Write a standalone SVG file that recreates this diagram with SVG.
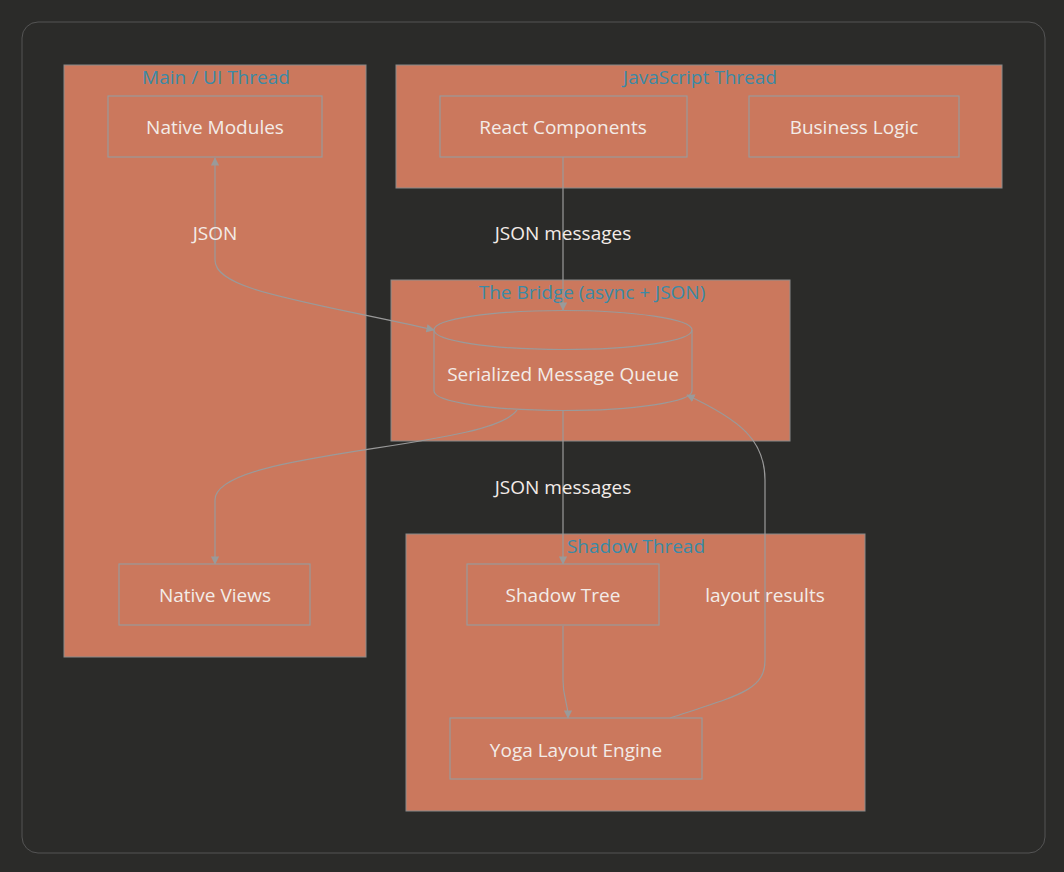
<svg xmlns="http://www.w3.org/2000/svg" width="1064" height="872" viewBox="0 0 1064 872">
<style>
.cl{fill:#cb785d;stroke:#8a8a8a;stroke-width:1}
.ct{fill:#3a8aa6;font:19px "Open Sans","Liberation Sans",sans-serif;text-anchor:middle}
.nd{fill:#cb785d;stroke:#9a9a9a;stroke-width:1.2}
.nt{fill:#f3ece8;font:19px "Open Sans","Liberation Sans",sans-serif;text-anchor:middle}
.e{fill:none;stroke:#9a9a9a;stroke-width:1.2}
.el{fill:#f3ece8;font:19px "Open Sans","Liberation Sans",sans-serif;text-anchor:middle}
</style>
<defs>
<marker id="a" viewBox="0 0 10 10" refX="9" refY="5" markerWidth="7" markerHeight="7" orient="auto-start-reverse"><path d="M0,0L10,5L0,10z" fill="#9a9a9a"/></marker>
</defs>
<rect width="1064" height="872" fill="#2b2b29"/>
<rect x="22" y="22" width="1023" height="831" rx="16" fill="#2b2b29" stroke="#555" stroke-width="1"/>
<g id="main-thread"><rect class="cl" x="64" y="65" width="302" height="592"/><text class="ct" x="216" y="84">Main / UI Thread</text></g>
<g id="js-thread"><rect class="cl" x="396" y="65" width="606" height="123"/><text class="ct" x="700" y="84">JavaScript Thread</text></g>
<g id="bridge"><rect class="cl" x="391" y="280" width="399" height="161"/><text class="ct" x="592" y="299">The Bridge (async + JSON)</text></g>
<g id="shadow-thread"><rect class="cl" x="406" y="534" width="459" height="277"/><text class="ct" x="636" y="553">Shadow Thread</text></g>
<g id="native-modules"><rect class="nd" x="108" y="96" width="214" height="61"/><text class="nt" x="215" y="134">Native Modules</text></g>
<g id="react-components"><rect class="nd" x="440" y="96" width="247" height="61"/><text class="nt" x="563" y="134">React Components</text></g>
<g id="business-logic"><rect class="nd" x="749" y="96" width="210" height="61"/><text class="nt" x="854" y="134">Business Logic</text></g>
<g id="queue"><path class="nd" d="M434,330 A129,19.5 0 0 1 692,330 L692,391 A129,19.5 0 0 1 434,391 Z"/><path class="e" d="M434,330 A129,19.5 0 0 0 692,330"/><text class="nt" x="563" y="381">Serialized Message Queue</text></g>
<g id="native-views"><rect class="nd" x="119" y="564" width="191" height="61"/><text class="nt" x="215" y="602">Native Views</text></g>
<g id="shadow-tree"><rect class="nd" x="467" y="564" width="192" height="61"/><text class="nt" x="563" y="602">Shadow Tree</text></g>
<g id="yoga"><rect class="nd" x="450" y="718" width="252" height="61"/><text class="nt" x="576" y="757">Yoga Layout Engine</text></g>
<g id="connectors">
<path class="e" d="M215,158 L215,260 C215,290 300,300 434,330" marker-start="url(#a)" marker-end="url(#a)"/>
<path class="e" d="M563,157 L563,310" marker-end="url(#a)"/>
<path class="e" d="M517,410 C490,450 215,450 215,500 L215,564" marker-end="url(#a)"/>
<path class="e" d="M563,411 L563,564" marker-end="url(#a)"/>
<path class="e" d="M563,626 L563,680 C563,700 568,700 568,718" marker-end="url(#a)"/>
<path class="e" d="M670,718 C740,695 765,690 765,660 L765,480 C765,440 740,420 687,395" marker-end="url(#a)"/>
<text class="el" x="215" y="240">JSON</text>
<text class="el" x="563" y="240">JSON messages</text>
<text class="el" x="563" y="494">JSON messages</text>
<text class="el" x="765" y="602">layout results</text>
</g>
</svg>
